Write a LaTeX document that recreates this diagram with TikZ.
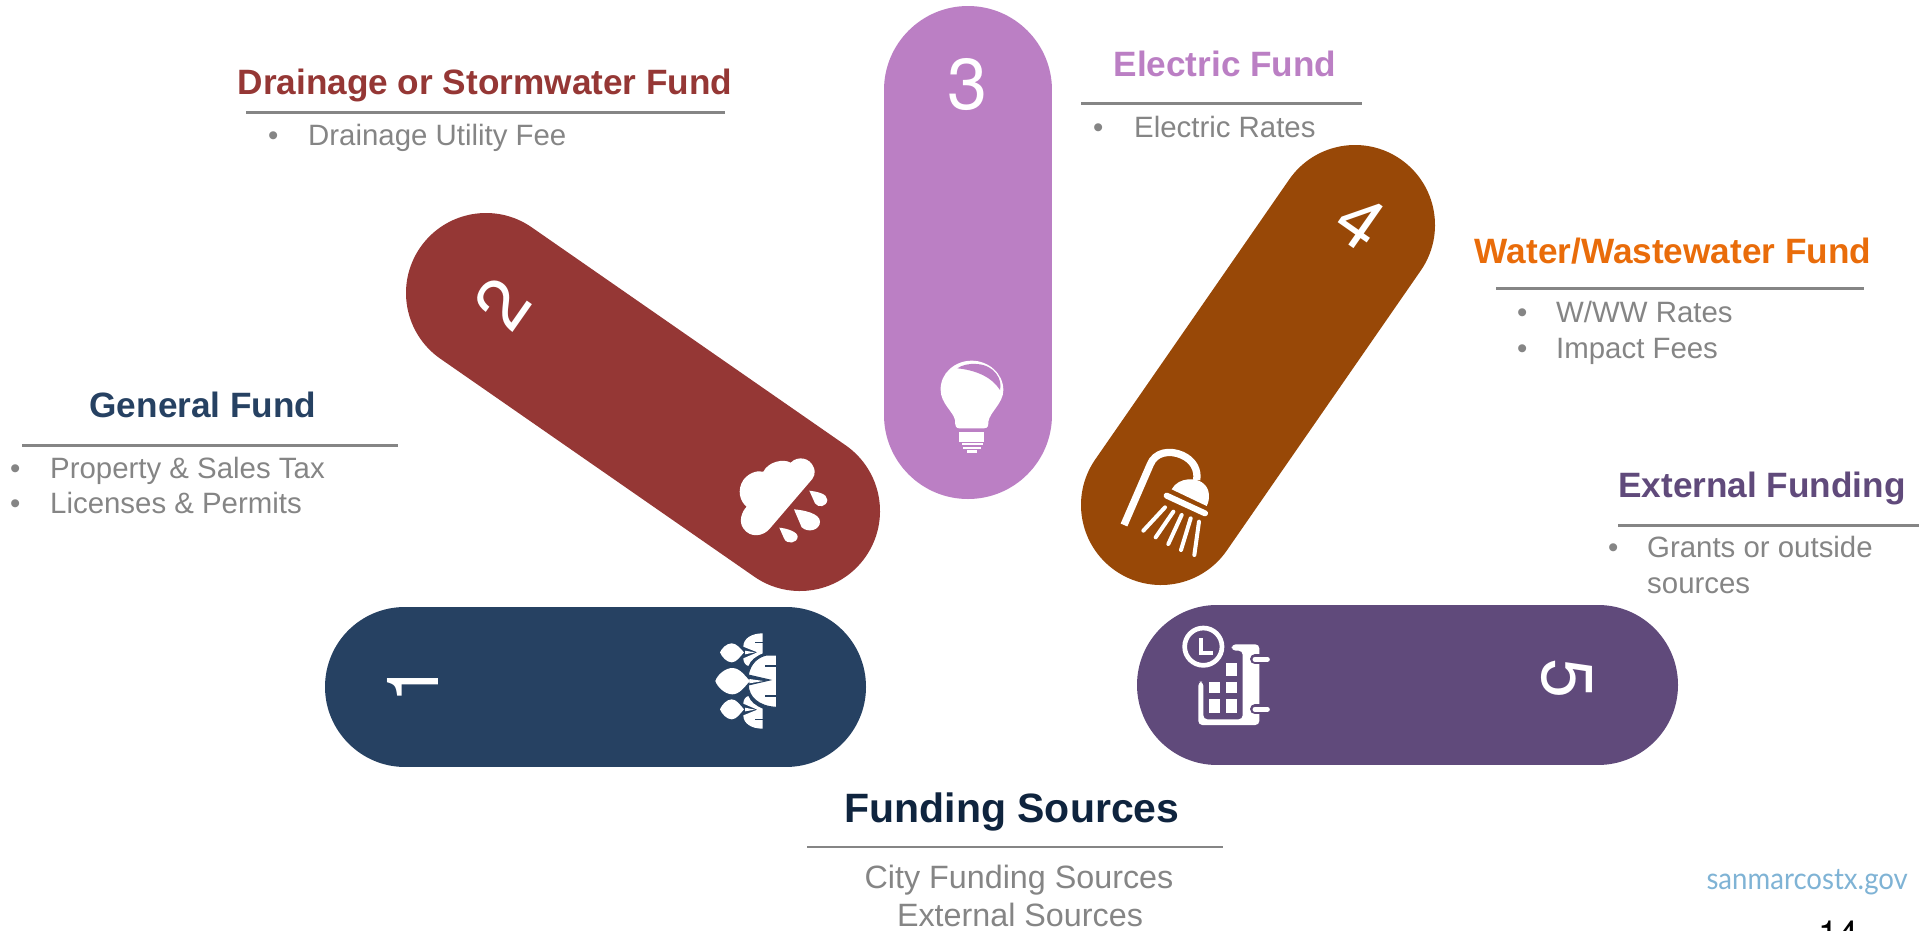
\documentclass[tikz,border=0pt]{standalone}
\usepackage{fontspec}
\setmainfont{Liberation Sans}
\newfontfamily\urlfont{Lato}
\newfontfamily\numfont{TeX Gyre Heros}
\definecolor{cnavy}{HTML}{264162}
\definecolor{cred}{HTML}{953735}
\definecolor{clilac}{HTML}{BB7FC4}
\definecolor{cbrown}{HTML}{984807}
\definecolor{cviolet}{HTML}{604A7B}
\definecolor{corange}{HTML}{E96C0A}
\definecolor{cdark}{HTML}{0F243E}
\definecolor{cgrey}{HTML}{858585}
\definecolor{curl}{HTML}{7FB3D5}
\tikzset{
  pill/.style={line cap=round,line width=160pt},
  digit/.style={text=white,inner sep=0pt,font=\numfont\fontsize{72}{72}\selectfont},
  ttl/.style={inner sep=0pt,anchor=base,font=\bfseries\fontsize{35.2}{38}\selectfont},
  body/.style={inner sep=0pt,anchor=base west,text=cgrey,font=\fontsize{29.4}{33}\selectfont},
  rulee/.style={draw=cgrey,line width=3pt},
  zm/.style 2 args={shift={(#1,#2)},x=.33333pt,y=-.33333pt},
}
\begin{document}
\begin{tikzpicture}[x=1pt,y=-1pt]
\useasboundingbox (0,0) rectangle (1931,930);
% pills
\coordinate (p1a) at (405,686.5); \coordinate (p1b) at (786,686.5);
\coordinate (p2a) at (486,293);   \coordinate (p2b) at (800,511);
\coordinate (p3a) at (968,90);    \coordinate (p3b) at (968,415);
\coordinate (p4a) at (1355,225);  \coordinate (p4b) at (1161,505);
\coordinate (p5a) at (1217,685);  \coordinate (p5b) at (1598,685);
\draw[pill,cnavy] (p1a)--(p1b);
\draw[pill,cred] (p2a)--(p2b);
\draw[pill,clilac,line width=168pt] (p3a)--(p3b);
\draw[pill,cbrown] (p4a)--(p4b);
\draw[pill,cviolet] (p5a)--(p5b);
% digits
\node[digit,rotate=90] (d1) at (413,683) {1};
\node[digit,rotate=55] (d2) at (502,303) {2};
\node[digit] (d3) at (968,85) {3};
\node[digit,rotate=-35] (d4) at (1361,222) {4};
\node[digit,rotate=-90] (d5) at (1567,679) {5};
% people icon
\begin{scope}[zm={680}{600}]
  \fill[white] (120,157) .. controls (125,145) and (140,130) .. (155,130) .. controls (170,130) and (180,145) .. (192,157) .. controls (180,170) and (170,187) .. (155,187) .. controls (140,187) and (125,170) .. (120,157) -- cycle;
  \fill[white] (106,243) .. controls (112,225) and (135,204) .. (157,204) .. controls (180,204) and (195,228) .. (210,243) .. controls (195,258) and (180,283) .. (157,283) .. controls (135,283) and (112,261) .. (106,243) -- cycle;
  \fill[white] (120,328) .. controls (125,315) and (140,298) .. (155,298) .. controls (170,298) and (180,315) .. (192,328) .. controls (180,341) and (170,358) .. (155,358) .. controls (140,358) and (125,341) .. (120,328) -- cycle;
  \fill[white] (248,100) .. controls (215,100) and (190,115) .. (190,140) -- (232,157) -- (190,175) .. controls (190,185) and (195,195) .. (205,198) .. controls (212,180) and (225,170) .. (248,160) -- cycle;
  \fill[white] (248,386) .. controls (215,386) and (190,371) .. (190,346) -- (232,329) -- (190,311) .. controls (190,301) and (195,291) .. (205,288) .. controls (212,306) and (225,316) .. (248,326) -- cycle;
  \fill[cnavy] (225,125) rectangle (248,130);
  \fill[cnavy] (225,356) rectangle (248,361);
  \fill[white] (195,152) -- (225,157) -- (195,163) -- cycle;
  \fill[white] (195,323) -- (225,329) -- (195,334) -- cycle;
  \filldraw[fill=white,draw=cnavy,line width=1pt] (290,165) -- (260,165) .. controls (235,170) and (210,190) .. (205,225) -- (270,240) -- (205,255) .. controls (205,290) and (235,320) .. (290,322) -- cycle;
  \fill[white] (208,237) -- (250,243) -- (208,250) -- cycle;
  \fill[cnavy] (255,195) rectangle (290,200);
  \fill[cnavy] (255,285) rectangle (290,290);
\end{scope}
% rain icon
\begin{scope}[zm={720}{440}]
  \fill[white] (150,265) .. controls (130,290) and (90,295) .. (70,265) .. controls (55,245) and (65,215) .. (80,200) .. controls (60,185) and (50,150) .. (70,120) .. controls (85,100) and (110,90) .. (130,95) .. controls (145,65) and (190,55) .. (212,68) .. controls (235,45) and (270,55) .. (280,80) .. controls (290,100) and (280,115) .. (270,125) -- cycle;
  \fill[white] (268,152) .. controls (290,155) and (322,160) .. (322,180) .. controls (320,200) and (295,205) .. (285,190) -- cycle;
  \fill[white] (222,208) .. controls (250,210) and (300,220) .. (300,245) .. controls (300,270) and (265,280) .. (245,262) -- cycle;
  \fill[white] (178,263) .. controls (200,265) and (233,275) .. (233,290) .. controls (232,310) and (200,315) .. (192,295) -- cycle;
\end{scope}
% bulb icon
\begin{scope}[zm={920}{340}]
  \fill[white] (118,265) -- (192,265) .. controls (205,265) and (205,255) .. (205,245) .. controls (210,215) and (250,190) .. (250,150) .. controls (250,100) and (205,62) .. (155,62) .. controls (105,62) and (60,100) .. (62,150) .. controls (62,190) and (100,215) .. (105,240) .. controls (105,258) and (108,265) .. (118,265) -- cycle;
  \fill[clilac] (112,85) .. controls (165,90) and (215,110) .. (240,150) .. controls (248,120) and (225,75) .. (170,72) .. controls (150,70) and (125,75) .. (112,85) -- cycle;
  \fill[white] (118,275) rectangle (192,305);
  \fill[white] (125,310) rectangle (190,316);
  \fill[white] (130,320) rectangle (182,327);
  \fill[white] (140,330) rectangle (170,338);
\end{scope}
% shower icon
\begin{scope}[zm={1100}{430}]
  \draw[white,line width=7.3pt] (72,285) -- (150,105) .. controls (165,65) and (210,60) .. (245,75) .. controls (280,90) and (295,120) .. (290,150);
  \fill[white] (215,178) .. controls (235,140) and (295,140) .. (315,165) .. controls (330,180) and (330,210) .. (320,228) -- cycle;
  \draw[white,line width=6pt,line cap=round] (200,197) -- (315,250);
  \draw[white,line width=4pt,line cap=round] (195,232) -- (130,302) (220,245) -- (167,322) (245,255) -- (205,342) (272,265) -- (243,360) (297,275) -- (283,375);
\end{scope}
% calendar icon
\begin{scope}[zm={1160}{610}]
  \draw[white,line width=4.7pt] (130,110) circle [radius=56];
  \draw[white,line width=4pt] (122,85) -- (122,130) -- (160,130);
  \fill[white,rounded corners=4pt] (215,103) -- (298,103) -- (298,345) -- (115,345) -- (115,215) -- (130,215) -- (130,328) -- (248,328) -- (248,122) -- (215,122) -- cycle;
  \draw[cviolet,line width=10pt,line cap=round] (285,148) -- (322,148) (285,298) -- (322,298);
  \draw[white,line width=5pt,line cap=round] (285,148) -- (322,148) (285,298) -- (322,298);
  \fill[white] (198,160) rectangle (232,197);
  \fill[white] (147,215) rectangle (180,250);
  \fill[white] (198,215) rectangle (232,250);
  \fill[white] (147,268) rectangle (180,308);
  \fill[white] (198,268) rectangle (232,308);
\end{scope}
% drainage
\node[ttl,text=cred] (t2) at (485,94.5) {Drainage or Stormwater Fund};
\draw[rulee] (246,112) -- (725,112);
\node[body] (b2a) at (268,145) {•};
\node[body] (x2a) at (308,145) {Drainage Utility Fee};
% electric
\node[ttl,text=clilac] (t3) at (1225,76.5) {Electric Fund};
\draw[rulee] (1081,103.5) -- (1362,103.5);
\node[body] (b3a) at (1093,137) {•};
\node[body] (x3a) at (1134,137) {Electric Rates};
% water
\node[ttl,text=corange] (t4) at (1673,263.5) {Water/Wastewater Fund};
\draw[rulee] (1496,288) -- (1864,288);
\node[body] (b4a) at (1517,322) {•};
\node[body] (x4a) at (1556,322) {W/WW Rates};
\node[body] (b4b) at (1517,358) {•};
\node[body] (x4b) at (1556,358) {Impact Fees};
% external
\node[ttl,text=cviolet] (t5) at (1762,497.5) {External Funding};
\draw[rulee] (1618,525) -- (1919,525);
\node[body] (b5a) at (1608,557) {•};
\node[body] (x5a) at (1647,557) {Grants or outside};
\node[body] (x5b) at (1647,593) {sources};
% general
\node[ttl,text=cnavy] (t1) at (203,417) {General Fund};
\draw[rulee] (22,445) -- (398,445);
\node[body] (b1a) at (10,478) {•};
\node[body] (x1a) at (50,478) {Property \& Sales Tax};
\node[body] (b1b) at (10,513) {•};
\node[body] (x1b) at (50,513) {Licenses \& Permits};
% funding sources
\node[ttl,text=cdark,font=\bfseries\fontsize{41}{44}\selectfont] (t0) at (1012,822) {Funding Sources};
\draw[draw=cgrey,line width=1.5pt] (807,847) -- (1223,847);
\node[inner sep=0pt,anchor=base,text=cgrey,font=\fontsize{32.3}{35}\selectfont] (s1) at (1019,888) {City Funding Sources};
\node[inner sep=0pt,anchor=base,text=cgrey,font=\fontsize{32.3}{35}\selectfont] (s2) at (1020,926) {External Sources};
% footer
\node[inner sep=0pt,anchor=base east,text=curl,xscale=.92,font=\urlfont\fontsize{30}{32}\selectfont] (url) at (1908,889) {sanmarcostx.gov};
\node[inner sep=0pt,anchor=base west,text=black,font=\numfont\fontsize{36}{40}\selectfont] (pg) at (1818,946) {14};
\end{tikzpicture}
\end{document}
